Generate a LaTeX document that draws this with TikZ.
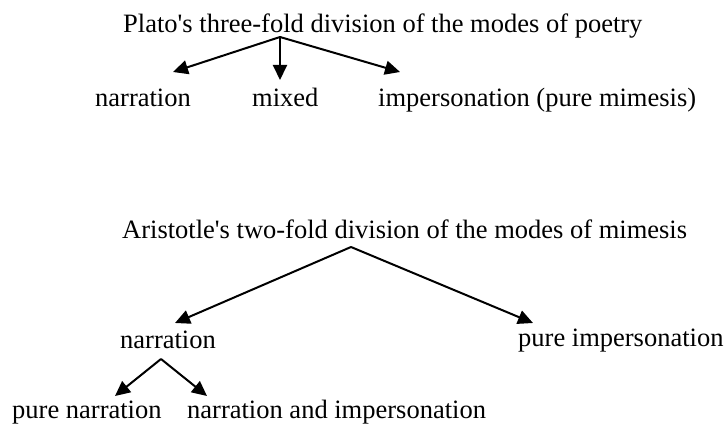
\documentclass[tikz,border=0pt]{standalone}
\usepackage{fontspec}
\setmainfont{Liberation Serif}[Ligatures=TeXOff]
\usetikzlibrary{arrows.meta}

\begin{document}
\begin{tikzpicture}[
    x=1pt, y=-1pt,
    label/.style={anchor=base west, inner sep=0pt, font=\fontsize{26.5}{30}\selectfont},
    arrow/.style={-{Triangle[length=15pt, width=14pt]}, line width=2pt}
]
    \useasboundingbox (0,0) rectangle (726,427);

    % Plato
    \node[label] (plato) at (123,33) {Plato's three-fold division of the modes of poetry};
    \node[label] (pnarr) at (95,107) {narration};
    \node[label] (pmixed) at (252,107) {mixed};
    \node[label] (pimp) at (378,107) {impersonation (pure mimesis)};

    % Aristotle
    \node[label] (arist) at (122,239) {Aristotle's two-fold division of the modes of mimesis};
    \node[label] (anarr) at (120,349) {narration};
    \node[label] (apure) at (518,347) {pure impersonation};
    \node[label] (pure) at (12,419) {pure narration};
    \node[label] (both) at (187,419) {narration and impersonation};

    % Branch points and arrow ends
    \coordinate (p0) at (280,37);
    \coordinate (pnarr-t) at (173,72);
    \coordinate (pmixed-t) at (280,80);
    \coordinate (pimp-t) at (400,72);
    \coordinate (a0) at (351,247);
    \coordinate (anarr-t) at (175,323);
    \coordinate (apure-t) at (533,323);
    \coordinate (n0) at (161,359);
    \coordinate (pure-t) at (115,396);
    \coordinate (both-t) at (207,396);

    % Arrows
    \draw[arrow] (p0) -- (pnarr-t);
    \draw[arrow] (p0) -- (pmixed-t);
    \draw[arrow] (p0) -- (pimp-t);
    \draw[arrow] (a0) -- (anarr-t);
    \draw[arrow] (a0) -- (apure-t);
    \draw[arrow] (n0) -- (pure-t);
    \draw[arrow] (n0) -- (both-t);

\end{tikzpicture}
\end{document}
